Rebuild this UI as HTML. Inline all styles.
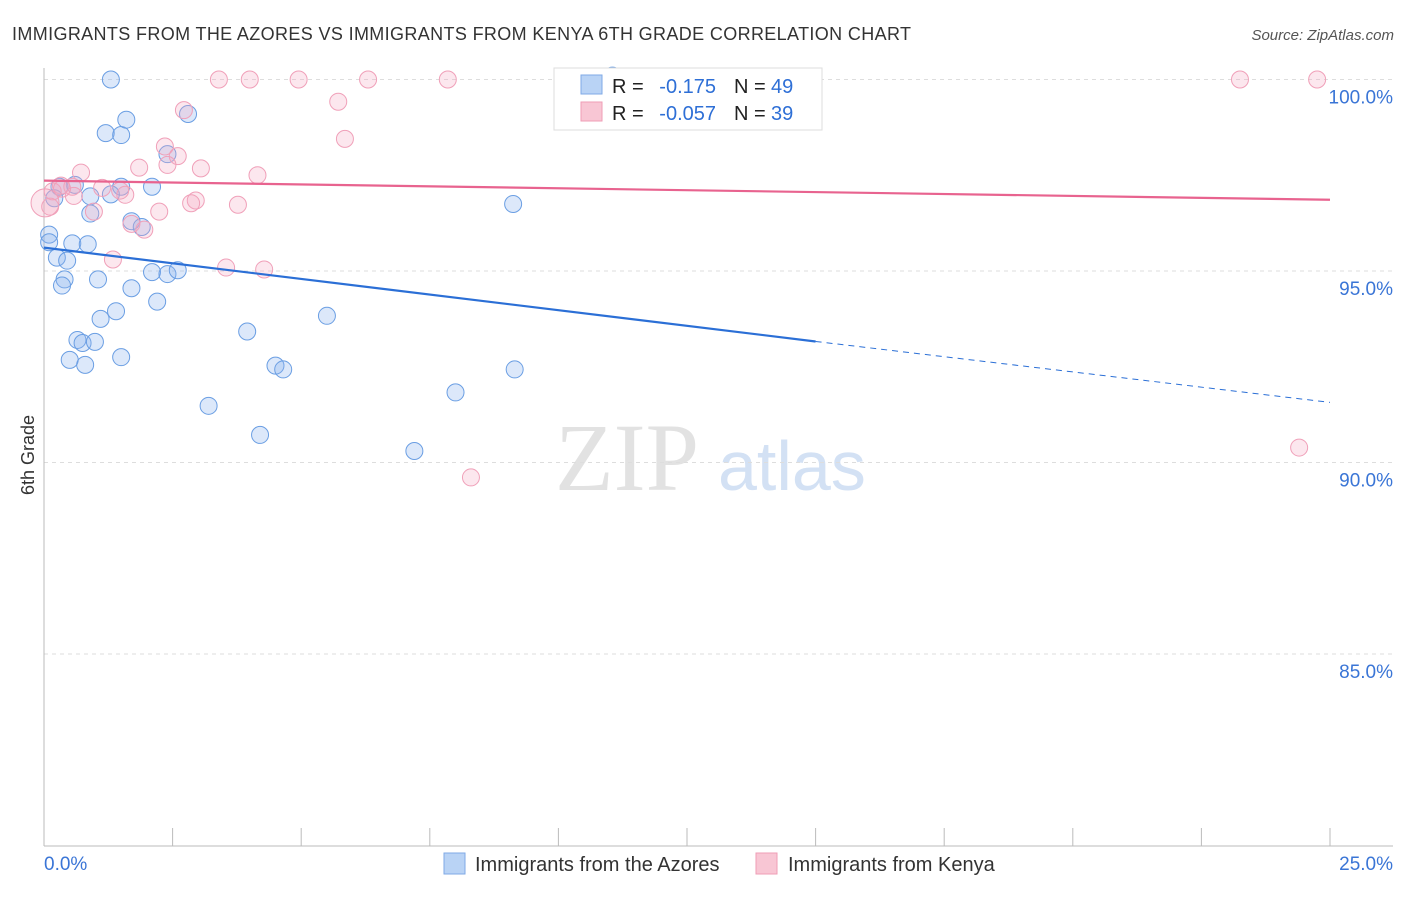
<!DOCTYPE html>
<html><head><meta charset="utf-8"><style>
body{margin:0;background:#fff;font-family:"Liberation Sans",sans-serif}
</style></head><body>
<svg width="1406" height="892" xmlns="http://www.w3.org/2000/svg" style="font-family:'Liberation Sans',sans-serif">
<text x="12" y="40" font-size="18" fill="#333" textLength="899">IMMIGRANTS FROM THE AZORES VS IMMIGRANTS FROM KENYA 6TH GRADE CORRELATION CHART</text>
<text x="1394" y="40" font-size="15" fill="#555" font-style="italic" text-anchor="end">Source: ZipAtlas.com</text>
<text x="34" y="455" font-size="18" fill="#333" text-anchor="middle" transform="rotate(-90 34 455)">6th Grade</text>
<text x="555" y="490" font-size="96" fill="#e2e2e2" font-family="Liberation Serif">ZIP</text>
<text x="718" y="490" font-size="70" fill="#d3e1f4">atlas</text>
<g id="grid"></g><g id="axes"></g><g id="pts"></g><g id="lines"></g>
<g>
<rect x="554" y="68" width="268" height="62" fill="#fff" stroke="#ddd"/>
<rect x="581" y="75" width="21" height="19" fill="#b9d3f5" stroke="#7fa9e6"/>
<rect x="581" y="102" width="21" height="19" fill="#f8c6d4" stroke="#ef9db6"/>
<text x="612" y="93" font-size="20" fill="#222">R =</text>
<text x="716" y="93" font-size="20" fill="#2e6fd6" text-anchor="end">-0.175</text>
<text x="734" y="93" font-size="20" fill="#222">N =</text>
<text x="771" y="93" font-size="20" fill="#2e6fd6">49</text>
<text x="612" y="120" font-size="20" fill="#222">R =</text>
<text x="716" y="120" font-size="20" fill="#2e6fd6" text-anchor="end">-0.057</text>
<text x="734" y="120" font-size="20" fill="#222">N =</text>
<text x="771" y="120" font-size="20" fill="#2e6fd6">39</text>
</g>
<g>
<rect x="444" y="853" width="21" height="21" fill="#b9d3f5" stroke="#7fa9e6"/>
<text x="475" y="871" font-size="20" fill="#333">Immigrants from the Azores</text>
<rect x="756" y="853" width="21" height="21" fill="#f8c6d4" stroke="#ef9db6"/>
<text x="788" y="871" font-size="20" fill="#333">Immigrants from Kenya</text>
</g>
</svg>
<script>
const yTicks=[100,95,90,85];
const yTickLabels=["100.0%","95.0%","90.0%","85.0%"];
const xTickLabels=["0.0%","25.0%"];
const blueX=[1.3,2.8,1.2,1.5,1.6,2.4,2.1,1.5,1.3,0.9,0.6,0.3,0.2,0.9,1.7,1.9,0.1,0.1,0.55,0.85,0.25,0.45,2.1,2.4,2.6,1.05,0.4,0.35,1.7,2.2,1.4,1.1,3.95,5.5,0.65,0.75,0.99,0.5,0.8,1.5,4.5,4.65,3.2,4.2,7.2,8.0,9.15,9.12,11.05];
const blueY=[100,99.1,98.6,98.55,98.95,98.05,97.2,97.2,97.0,96.95,97.25,97.2,96.9,96.5,96.3,96.15,95.95,95.75,95.72,95.7,95.35,95.27,94.97,94.92,95.02,94.78,94.78,94.62,94.55,94.2,93.95,93.75,93.42,93.83,93.2,93.12,93.15,92.68,92.55,92.75,92.53,92.43,91.48,90.72,90.3,91.83,92.43,96.75,100.1];
const pinkX=[3.4,4.0,4.95,6.3,7.85,23.25,24.75,5.72,5.85,2.72,2.35,2.6,2.4,3.05,1.85,0.72,4.15,0.33,0.55,1.13,1.58,0.58,0.17,0.12,2.95,2.86,3.77,0.97,2.24,1.7,1.95,1.34,3.54,4.28,8.3,24.4,0.35,0.02,1.48];
const pinkY=[100,100,100,100,100,100,100,99.42,98.45,99.2,98.25,98.0,97.77,97.68,97.7,97.57,97.5,97.23,97.2,97.17,96.99,96.96,97.08,96.68,96.84,96.77,96.73,96.55,96.55,96.23,96.08,95.3,95.09,95.04,89.61,90.39,97.15,96.78,97.1];
const blueTrend=[[0,95.61],[15,93.16],[25,91.57]];
const pinkTrend=[[0,97.36],[25,96.86]];
const X=v=>44+v/25*1286, Y=v=>79.5+(100-v)*38.3;
const NS="http://www.w3.org/2000/svg";
function mk(t,a,p){const e=document.createElementNS(NS,t);for(const k in a)e.setAttribute(k,a[k]);document.getElementById(p).appendChild(e);return e;}
yTicks.forEach((t,i)=>{
 const g=mk('line',{x1:44,x2:1393,y1:Y(t),y2:Y(t),stroke:'#ddd','stroke-dasharray':'4,4'},'grid');
 
 
 const l=mk('text',{x:1393,y:Y(t)+24,'font-size':19,fill:'#3a75d6','text-anchor':'end'},'axes');
 l.textContent=yTickLabels[i];
 
 
});
const ax=mk('line',{x1:44,x2:44,y1:68,y2:846,stroke:'#bbb'},'axes');


const bx=mk('line',{x1:44,x2:1393,y1:846,y2:846,stroke:'#bbb'},'axes');


for(let i=0;i<=10;i++){const t=mk('line',{x1:X(i*2.5),x2:X(i*2.5),y1:828,y2:846,stroke:'#bbb'},'axes');
 
 }
[[0,'start',44],[25,'end',1393]].forEach((d,i)=>{const l=mk('text',{x:d[2],y:870,'font-size':19,fill:'#3a75d6','text-anchor':d[1]},'axes');l.textContent=xTickLabels[i];
 
 });
blueX.forEach((x,i)=>{const c=mk('circle',{cx:X(x),cy:Y(blueY[i]),r:8.5,fill:'rgba(140,180,240,0.3)',stroke:'#6a9ee3','stroke-width':1},'pts');
 
 });
pinkX.forEach((x,i)=>{const c=mk('circle',{cx:X(x),cy:Y(pinkY[i]),r:i==37?14:8.5,fill:'rgba(245,170,195,0.28)',stroke:'#f0a0b9','stroke-width':1},'pts');
 
 });
let l1=mk('line',{x1:X(blueTrend[0][0]),y1:Y(blueTrend[0][1]),x2:X(blueTrend[1][0]),y2:Y(blueTrend[1][1]),stroke:'#2b6fd6','stroke-width':2.2},'lines');


let l2=mk('line',{x1:X(blueTrend[1][0]),y1:Y(blueTrend[1][1]),x2:X(blueTrend[2][0]),y2:Y(blueTrend[2][1]),stroke:'#2b6fd6','stroke-width':1,'stroke-dasharray':'6,5'},'lines');


let l3=mk('line',{x1:X(pinkTrend[0][0]),y1:Y(pinkTrend[0][1]),x2:X(pinkTrend[1][0]),y2:Y(pinkTrend[1][1]),stroke:'#e8638f','stroke-width':2.2},'lines');


</script>
</body></html>
